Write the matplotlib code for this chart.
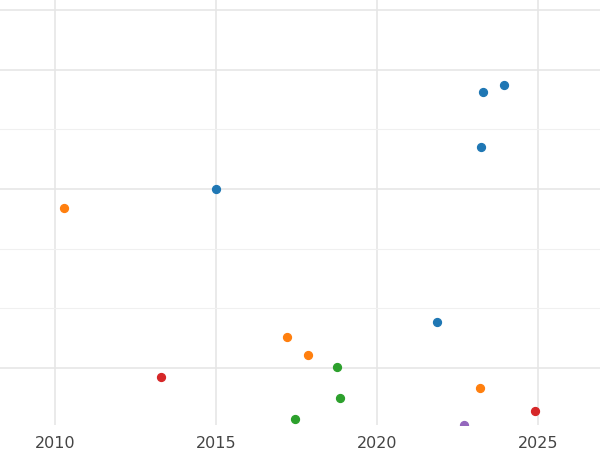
import matplotlib
matplotlib.use("Agg")
import matplotlib.pyplot as plt

# one list per colour group
blue_x = [2023.29, 2023.94, 2023.23, 2015.0, 2021.86]
blue_y = [5.63, 5.75, 4.71, 4.0, 1.77]
orange_x = [2010.28, 2017.2, 2017.86, 2023.2]
orange_y = [3.68, 1.52, 1.22, 0.66]
green_x = [2018.76, 2018.85, 2017.45]
green_y = [1.02, 0.50, 0.14]
red_x = [2013.29, 2024.91]
red_y = [0.85, 0.28]
purple_x = [2022.7]
purple_y = [0.04]

x_ticks = [2010, 2015, 2020, 2025]


def main():
    fig = plt.figure(figsize=(6, 4.5), dpi=100)
    ax = fig.add_axes([0, 25 / 450, 1, 425 / 450])

    groups = [
        (blue_x, blue_y, "#1f77b4"),
        (orange_x, orange_y, "#ff7f0e"),
        (green_x, green_y, "#2ca02c"),
        (red_x, red_y, "#d62728"),
        (purple_x, purple_y, "#9467bd"),
    ]
    for xs, ys, color in groups:
        ax.scatter(xs, ys, s=32, color=color, zorder=3, clip_on=True)

    ax.set_xlim(2008.29, 2026.93)
    ax.set_ylim(0.044, 7.17)
    ax.set_xticks(x_ticks)
    ax.set_yticks([1, 4, 6, 7])
    ax.set_yticks([2, 3, 5], minor=True)
    ax.set_yticklabels([])
    ax.grid(True, which="major", color="#e6e6e6", linewidth=1.2)
    ax.grid(True, which="minor", axis="y", color="#f0f0f0", linewidth=0.8)
    ax.tick_params(which="both", length=0, labelsize=11.5, labelcolor="#444444", pad=8)
    for spine in ax.spines.values():
        spine.set_visible(False)

    fig.savefig("out.png", dpi=100)


if __name__ == "__main__":
    main()
